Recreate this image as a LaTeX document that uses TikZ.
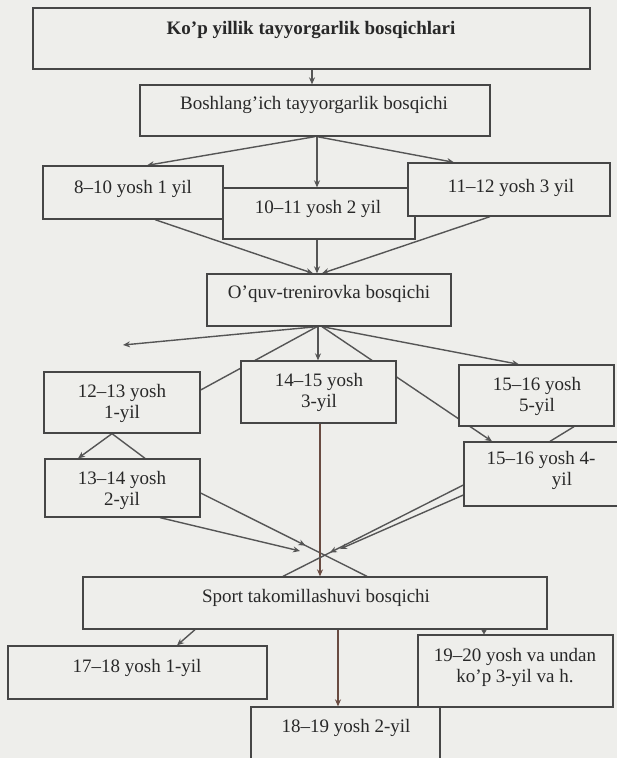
\documentclass[tikz,border=0pt]{standalone}
\usepackage{fontspec}
\setmainfont{Liberation Serif}
\usetikzlibrary{arrows.meta,calc,fit,decorations.markings}
\definecolor{bgc}{RGB}{238,238,235}
\definecolor{ln}{RGB}{85,85,85}
\definecolor{bd}{RGB}{70,70,70}
\definecolor{tx}{RGB}{40,40,40}
\definecolor{brn}{RGB}{105,75,65}
\pgfdeclarelayer{back}
\pgfdeclarelayer{edges}
\pgfsetlayers{back,edges,main}
\newcommand\mybox[5]{\node[box, fit={(#2,#3) (#4,#5)}] (#1) {};}
\begin{document}
\begin{tikzpicture}[x=1pt,y=-1pt,
 box/.style={draw=bd, line width=1.3pt, fill=bgc, inner sep=0pt},
 txt/.style={inner sep=0pt, text=tx, font=\fontsize{19}{21}\selectfont, align=center},
 conn/.style={draw=ln, line width=1.4pt},
 arr/.style={conn, -{Stealth[length=7pt,width=6pt]}},
 midarr/.style={conn, postaction={decorate}, decoration={markings, mark=at position #1 with {\arrow{Stealth[length=7pt,width=6pt]}}}},
]
\useasboundingbox (0,0) rectangle (617,758);
\begin{pgfonlayer}{back}
\fill[bgc] (0,0) rectangle (617,758);
\end{pgfonlayer}

% boxes
\mybox{top}{33}{8}{590}{69}
\mybox{boshl}{140}{85}{490}{136}
\mybox{b810}{43}{166}{223}{219}
\mybox{b1011}{223}{188}{415}{239}
\mybox{b1112}{408}{163}{610}{216}
\mybox{oquv}{207}{274}{451}{326}
\mybox{b1213}{44}{372}{200}{433}
\mybox{b1415}{241}{361}{396}{423}
\mybox{b1516a}{459}{365}{614}{426}
\mybox{b1314}{45}{459}{200}{517}
\mybox{b1516b}{464}{442}{624}{506}
\mybox{sport}{83}{577}{547}{629}
\mybox{b1718}{8}{646}{267}{699}
\mybox{b1920}{418}{635}{613}{707}
\mybox{b1819}{251}{707}{440}{772}

% texts
\node[txt] (t-top) at (311,30) {\bfseries Ko’p yillik tayyorgarlik bosqichlari};
\node[txt] (t-boshl) at (314,105) {Boshlang’ich tayyorgarlik bosqichi};
\node[txt] (t810) at (133,189) {8–10 yosh 1 yil};
\node[txt] (t1011) at (318,209) {10–11 yosh 2 yil};
\node[txt] (t1112) at (511,188) {11–12 yosh 3 yil};
\node[txt] (t-oquv) at (329,294) {O’quv-trenirovka bosqichi};
\node[txt] (t1213) at (122,403) {12–13 yosh\\1-yil};
\node[txt] (t1415) at (319,392) {14–15 yosh\\3-yil};
\node[txt] (t1516a) at (537,396) {15–16 yosh\\5-yil};
\node[txt] (t1314) at (122,490) {13–14 yosh\\2-yil};
\node[txt] (t1516b) at (541,470) {15–16 yosh 4-\\\hspace*{42pt}yil};
\node[txt] (t-sport) at (316,598) {Sport takomillashuvi bosqichi};
\node[txt] (t1718) at (137,668) {17–18 yosh 1-yil};
\node[txt] (t1819) at (346,728) {18–19 yosh 2-yil};
\node[txt] (t1920) at (515,667) {19–20 yosh va undan\\ko’p 3-yil va h.};

% free ends
\coordinate (lfree) at (123,345);
\coordinate (convL) at (300,551);
\coordinate (convR) at (340,549);

\begin{pgfonlayer}{edges}
\draw[arr] (top.south -| 312,0) -- (boshl.north -| 312,0);
\draw[arr] (boshl.south -| 315,0) -- (b810.north -| 147,0);
\draw[arr] (boshl.south -| 317,0) -- (b1011.north -| 317,0);
\draw[arr] (boshl.south -| 317,0) -- (b1112.north -| 454,0);
\draw[arr] (b810.south -| 155,0) -- (oquv.north -| 313,0);
\draw[arr] (b1011.south -| 317,0) -- (oquv.north -| 317,0);
\draw[arr] (b1112.south -| 490,0) -- (oquv.north -| 322,0);
\draw[arr] (oquv.south -| 317,0) -- (lfree);
\draw[conn] (oquv.south -| 317,0) -- (b1213.east |- 0,390);
\draw[arr] (oquv.south -| 318,0) -- (b1415.north -| 318,0);
\draw[arr] (oquv.south -| 322,0) -- (b1516b.north -| 492,0);
\draw[arr] (oquv.south -| 322,0) -- (b1516a.north -| 519,0);
\draw[arr] (b1213.south -| 112,0) -- (b1314.north -| 78,0);
\draw[conn] (b1213.south -| 112,0) -- (b1314.north -| 145,0);
\draw[conn] (b1516a.south -| 574,0) -- (b1516b.north -| 550,0);
\draw[midarr=0.63] (b1314.east |- 0,493) -- (sport.north -| 367,0);
\draw[arr] (b1314.south -| 160,0) -- (convL);
\draw[arr, draw=brn] (b1415.south -| 320,0) -- (sport.north -| 320,0);
\draw[midarr=0.74] (b1516b.west |- 0,485) -- (sport.north -| 283,0);
\draw[arr] (b1516b.west |- 0,495) -- (convR);
\draw[arr] (sport.south -| 195,0) -- (b1718.north -| 177,0);
\draw[arr, draw=brn] (sport.south -| 338,0) -- (b1819.north -| 338,0);
\draw[conn, -{Stealth[length=5pt,width=6pt]}] (sport.south -| 484,0) -- (b1920.north -| 484,0);
\end{pgfonlayer}
\end{tikzpicture}
\end{document}
